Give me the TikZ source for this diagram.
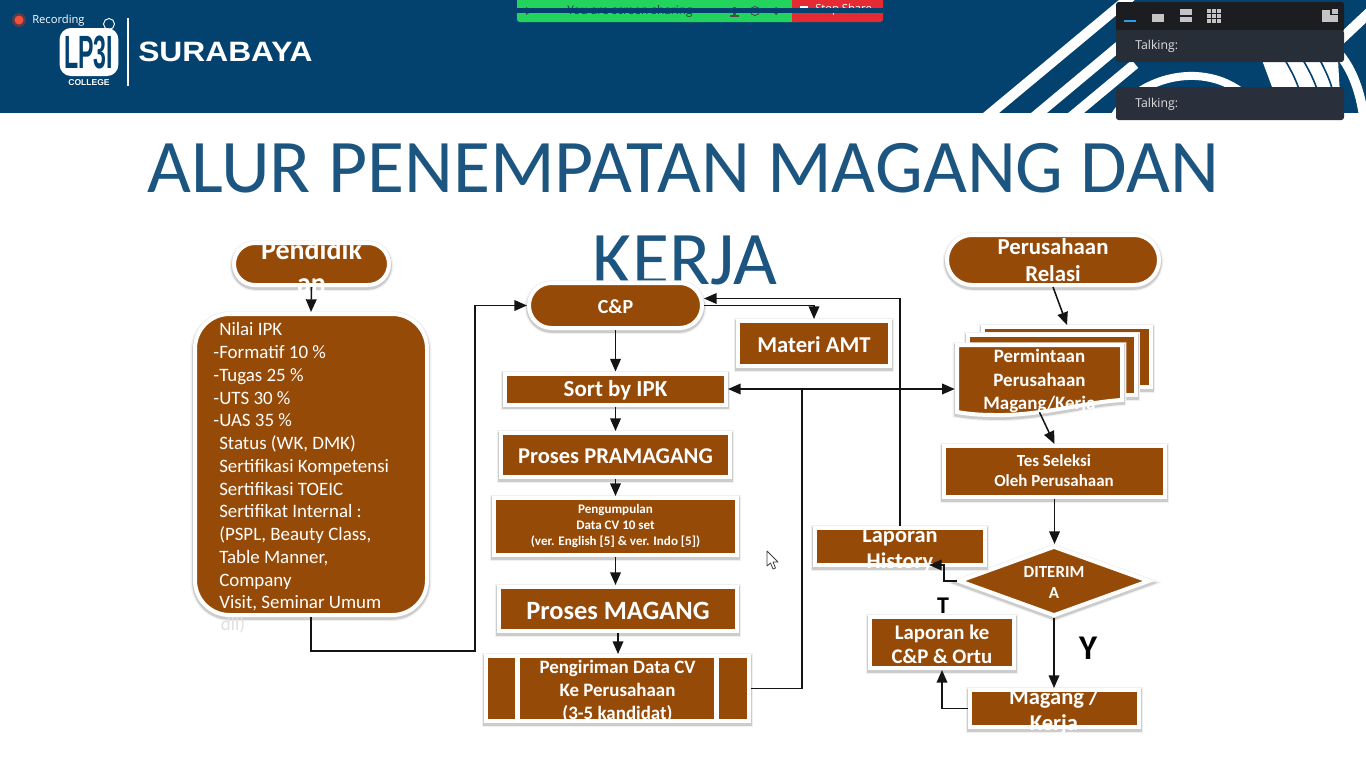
\documentclass[tikz,border=0pt]{standalone}
\usepackage{fontspec}
\setmainfont{Carlito}
\newfontfamily\hdfont{Liberation Sans}
\newfontfamily\uifont{Open Sans}
\usetikzlibrary{arrows.meta,shadows,shapes.geometric,shapes.misc}
\definecolor{brn}{HTML}{964A08}
\definecolor{banner}{HTML}{03426F}
\definecolor{ttl}{HTML}{1B5580}
\definecolor{lnk}{HTML}{141414}
\definecolor{pnlA}{HTML}{1C1D20}
\definecolor{pnlB}{HTML}{272E38}
\definecolor{pnlC}{HTML}{2A2F3C}
\definecolor{icn}{HTML}{C4C4C4}
\definecolor{recred}{HTML}{F0503C}
\definecolor{sharegreen}{HTML}{22D45E}
\definecolor{sharered}{HTML}{E42B33}
\definecolor{iconblue}{HTML}{2D9CF0}
\tikzset{
  soft/.style={general shadow={shadow xshift=0pt,shadow yshift=-1.2pt,fill=black!6,draw=black!6,line width=6.5pt},
               general shadow={shadow xshift=0pt,shadow yshift=-1.4pt,fill=black!20,draw=black!20,line width=4.4pt}},
  bx/.style={rectangle,fill=brn,draw=white,line width=3pt,inner sep=0pt,soft},
  pill/.style={bx,rounded rectangle},
  sz/.style 2 args={minimum width={(#1+4)*0.75},minimum height={(#2+4)*0.75}},
  lbl/.style={text=white,align=center,inner sep=0pt,font=\bfseries},
  conn/.style={draw=lnk,line width=1.15pt,-{Triangle[length=9.5pt,width=8pt]}},
  plain/.style={draw=lnk,line width=1.15pt},
  uitext/.style={inner sep=0pt,text=#1,font=\uifont\fontsize{9.2}{11}\selectfont},
  fpx/.style 2 args={font=\bfseries\fontsize{#1}{#2}\selectfont},
}
\begin{document}
\begin{tikzpicture}[x=0.75pt,y=-0.75pt]
\useasboundingbox (0,0) rectangle (1366,768);
\fill[white] (0,0) rectangle (1366,768);
% ---- banner
\fill[banner] (0,0) rectangle (1366,113);
\begin{scope}
\clip (0,0) rectangle (1366,113);
\draw[white,line width=7.6pt] (973,128) -- (1140,-11);
\draw[white,line width=7.6pt] (1021,128) -- (1130,37);
\draw[white,line width=7.6pt] (1058,128) -- (1135,64);
\draw[white,line width=6pt] (1112,120) .. controls (1140,70) and (1225,55) .. (1262,115);
\draw[white,line width=4pt] (1150,120) .. controls (1170,88) and (1205,85) .. (1228,115);
\fill[white] (1262,60) -- (1338,60) -- (1340,95) -- (1275,95) -- cycle;
\draw[banner,line width=1.2pt] (1285,60) .. controls (1292,72) and (1296,80) .. (1300,92);
\draw[banner,line width=1.2pt] (1303,60) .. controls (1310,72) and (1314,80) .. (1318,92);
\draw[banner,line width=1.2pt] (1320,60) .. controls (1326,72) and (1330,80) .. (1333,92);
\draw[white,line width=7.6pt] (1338,42) -- (1372,10);
\draw[white,line width=7pt] (1340,55) .. controls (1352,70) and (1360,90) .. (1364,118);
\draw[banner,line width=1.5pt] (1340,74) .. controls (1346,80) and (1350,88) .. (1352,100);
\end{scope}
% ---- logo
\node[draw=white,line width=3pt,fill=white,rounded corners=7pt,minimum width=41pt,minimum height=33pt,inner sep=0pt] (logobox) at (89,52) {};
\node[inner sep=0pt,text=banner,font=\hdfont\bfseries\fontsize{28}{28}\selectfont] (logotext) at (88.5,52) {\scalebox{0.62}[1.25]{LP3I}};
\draw[white,line width=0.7pt] (109,24) circle (5.5);
\node[inner sep=0pt,text=white,font=\hdfont\bfseries\fontsize{6.4}{7}\selectfont] (college) at (89,83) {COLLEGE};
\draw[white,line width=1.3pt] (128,18) -- (128,86);
\node[inner sep=0pt,text=white,anchor=west,font=\hdfont\bfseries\fontsize{21}{22}\selectfont] (city) at (138,52) {\scalebox{1.135}[1]{SURABAYA}};
% ---- recording
\fill[red!60!orange,opacity=.35] (19,20) circle (7);
\fill[recred] (19,20) circle (4.5);
\node[inner sep=0pt,text=white,anchor=west,font=\uifont\fontsize{8.4}{10}\selectfont] (rec) at (32,21) {Recording};
% ---- share bar
\begin{scope}
\clip (517,0) rectangle (883,22);
\fill[sharegreen,rounded corners=2pt] (517,-6) rectangle (800,22);
\fill[sharered,rounded corners=2pt] (792,-6) rectangle (883,22);
\fill[sharered] (792,-6) rectangle (840,22);
\node[inner sep=0pt,anchor=west,text=black!80,font=\uifont\fontsize{8.9}{10}\selectfont] (sharing) at (567,11) {You are screen sharing};
\node[inner sep=0pt,anchor=west,text=white,font=\uifont\fontsize{8.4}{10}\selectfont] (stopshare) at (815,10) {Stop Share};
\fill[white] (800,6) rectangle (808,11);
\draw[black!70,line width=.7pt] (755,11) circle (4.5);
\fill[black!70] (776,7) -- (780,11) -- (776,15) -- (772,11) -- cycle;
\fill[black!70] (733,7) rectangle (736,15);
\fill[black!70] (730,15) rectangle (739,17);
\fill[black!70] (526,7) -- (532,11) -- (526,15) -- cycle;
\fill[banner] (517,8) rectangle (883,13);
\end{scope}
% ---- panels
\fill[pnlA,rounded corners=2pt] (1116,2) rectangle (1344,32);
\fill[pnlB,rounded corners=2pt] (1116,30) rectangle (1344,62);
\fill[pnlC,rounded corners=2pt] (1116,87) rectangle (1344,120);
\fill[iconblue] (1124,19.5) rectangle (1136,22);
\fill[icn] (1152,14) rectangle (1164,22);
\fill[icn] (1180,9) rectangle (1192,15);
\fill[icn] (1180,17) rectangle (1192,22);
\foreach \gx in {1207,1212,1217} \foreach \gy in {9,14,19} \fill[icn] (\gx,\gy) rectangle +(4,4);
\fill[icn] (1322,10) rectangle (1338,22);
\fill[pnlA] (1330,9) rectangle (1339,15);
\fill[icn] (1332,9) rectangle (1338,14);
\node[uitext=white!88!black,anchor=west] (talkA) at (1135,46) {Talking:};
\node[uitext=white!88!black,anchor=west] (talkB) at (1135,104) {Talking:};
% ---- title
\node[inner sep=0pt,text=ttl,font=\fontsize{56.8}{60}\selectfont] (titleA) at (683,168) {ALUR PENEMPATAN MAGANG DAN};
\node[inner sep=0pt,text=ttl,font=\fontsize{56.8}{60}\selectfont] (titleB) at (685,260) {KERJA};
% ---- left column
\node[pill,sz={151}{38}] (pend) at (311.5,264) {};
\node[bx,sz={228}{297},rounded corners=26pt] (nilai) at (311,464.5) {};
% ---- middle column
\node[pill,sz={169}{41}] (cp) at (615.5,305.5) {};
\node[bx,sz={217}{27}] (sort) at (615.5,389) {};
\node[bx,sz={225}{40}] (pram) at (615.5,455) {};
\node[bx,sz={239}{53}] (kumpul) at (615.5,526.5) {};
\node[bx,sz={234}{40}] (magang) at (618,609) {};
\node[bx,sz={259}{61}] (kirim) at (617.5,688.5) {};
\draw[white,line width=3.6pt] (517.5,655) -- (517.5,723);
\draw[white,line width=3.6pt] (716.5,655) -- (716.5,723);
\node[bx,sz={148}{41}] (amt) at (814,343.5) {};
% ---- right column
\node[pill,sz={208}{46}] (rel) at (1053,260) {};
\node[bx,sz={164}{56}] (back) at (1067,357) {};
\node[bx,sz={164}{56}] (mid) at (1052,365) {};
\draw[fill=brn,draw=white,line width=3pt,soft] (957,345) -- (1122,345) -- (1122,400)
  .. controls (1085,402) and (1040,416) .. (995,415) .. controls (980,415) and (968,414) .. (957,412) -- cycle;
\node[inner sep=0pt,minimum width={169*0.75},minimum height={67*0.75}] (front) at (1039.5,378.5) {};
\node[bx,sz={217}{47}] (tes) at (1054.5,471.5) {};
\node[bx,shape=diamond,minimum width={191*0.75},minimum height={70*0.75}] (dia) at (1054,581) {};
\node[bx,sz={166}{33}] (lap) at (900,546.5) {};
\node[bx,sz={140}{47}] (lapke) at (942,642.5) {};
\node[bx,sz={165}{33}] (mg) at (1054.5,708.5) {};
% ---- texts
\node[lbl,fpx={21}{24.6}] (pendt) at (311.5,266) {Pendidik\\an};
\node[inner sep=0pt,text=white,anchor=north west,align=left,font=\fontsize{14.2}{17.06}\selectfont] (nilait) at (219,322.5) {Nilai IPK\\\llap{-}Formatif 10 \%\\\llap{-}Tugas 25 \%\\\llap{-}UTS 30 \%\\\llap{-}UAS 35 \%\\Status (WK, DMK)\\Sertifikasi Kompetensi\\Sertifikasi TOEIC\\Sertifikat Internal :\\(PSPL, Beauty Class,\\Table Manner,\\Company\\Visit, Seminar Umum};
\node[inner sep=0pt,text=black!12,font=\fontsize{14.2}{17}\selectfont] (dll) at (233,625) {dll)};
\node[lbl,fpx={15}{18}] (cpt) at (615.5,307) {C\&P};
\node[lbl,fpx={17.2}{20}] (sortt) at (615.5,390.5) {Sort by IPK};
\node[lbl,fpx={16.9}{20}] (pramt) at (615.5,456.5) {Proses PRAMAGANG};
\node[lbl,fpx={9.8}{12}] (kumpult) at (kumpul) {Pengumpulan\\Data CV 10 set\\(ver. English [5] \& ver. Indo [5])};
\node[lbl,fpx={19.8}{24}] (magangt) at (618,611) {Proses MAGANG};
\node[lbl,fpx={14.2}{17.1}] (kirimt) at (617.5,691.5) {Pengiriman Data CV\\Ke Perusahaan\\(3-5 kandidat)};
\node[lbl,fpx={17}{20}] (amtt) at (814,344.5) {Materi AMT};
\node[lbl,fpx={17.1}{20.25}] (relt) at (1053,260.5) {Perusahaan\\Relasi};
\node[lbl,fpx={14.2}{17.4}] (frontt) at (1039.5,381) {Permintaan\\Perusahaan\\Magang/Kerja};
\node[lbl,fpx={12.7}{15}] (test) at (1054,471) {Tes Seleksi\\Oleh Perusahaan};
\node[lbl,fpx={12.7}{15.7}] (diat) at (1054,582.5) {DITERIM\\A};
\node[lbl,fpx={16.8}{19.5}] (lapt) at (900,550) {Laporan\\History};
\node[lbl,fpx={15.6}{18}] (lapket) at (942,644) {Laporan ke\\C\&P \& Ortu};
\node[lbl,fpx={16.9}{19.5}] (mgt) at (1054,711) {Magang /\\Kerja};
\node[inner sep=0pt,text=black,font=\bfseries\fontsize{18}{20}\selectfont] (tlabel) at (943,606) {T};
\node[inner sep=0pt,text=black,font=\bfseries\fontsize{26}{28}\selectfont] (ylabel) at (1088,648) {Y};
% ---- connectors
\coordinate (bendA) at (475,651);
\coordinate (junc) at (802,389);
\coordinate (bendB) at (944,565);
\coordinate (lapin) at (929,565);
\draw[conn] (pend.south) -- (nilai.north);
\draw[conn] (nilai.south) |- (bendA) |- (cp.west);
\draw[conn] (cp.south) -- (sort.north);
\draw[conn] (sort.south) -- (pram.north);
\draw[conn] (pram.south) -- (kumpul.north);
\draw[conn] (kumpul.south) -- (kumpul.south |- magang.north);
\draw[conn] (magang.south) -- (magang.south |- kirim.north);
\draw[plain] (kirim.east) -| (junc);
\draw[draw=lnk,line width=1.15pt,{Triangle[length=9.5pt,width=8pt]}-{Triangle[length=9.5pt,width=8pt]}] (sort.east) -- (front.west |- sort.east);
\draw[conn] (cp.east) -| (amt.north);
\draw[conn] (lap.north) |- ([yshift=5.25pt]cp.east);
\draw[conn] (rel.south) -- (back.north);
\draw[conn] (front.south) -- (tes.north);
\draw[conn] (tes.south) -- (tes.south |- dia.north);
\draw[conn] (dia.west) -| (bendB) -- (lapin);
\draw[conn] (dia.south) -- (dia.south |- mg.north);
\draw[conn] (mg.west) -| (lapke.south);
% ---- pointer
\draw[fill=white,draw=black!75,line width=.6pt,line join=round] (767,551) -- (767,566) -- (770.5,563) -- (773,569) -- (775.5,568) -- (773,562) -- (778,562) -- cycle;
\end{tikzpicture}
\end{document}
